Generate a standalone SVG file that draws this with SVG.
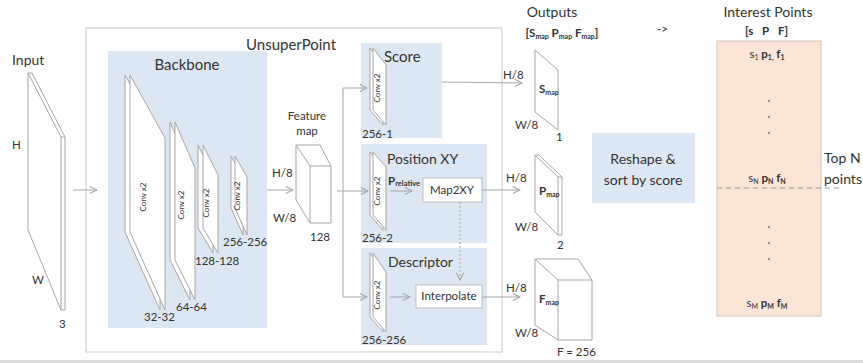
<svg xmlns="http://www.w3.org/2000/svg" width="863" height="363" viewBox="0 0 863 363">
<defs>
<style>
text{font-family:Lato,"Open Sans","Liberation Sans",sans-serif;fill:#333}
.t{font-size:15px}
.m{font-size:14px}
.s{font-size:11.5px}
.xs{font-size:8px}
.c{text-anchor:middle}
.blue{fill:#dce7f3;stroke:none}
.slab{fill:#fff;stroke:#a6a6a6;stroke-width:1}
.ln{fill:none;stroke:#a6a6a6;stroke-width:1}
.arr{fill:none;stroke:#a6a6a6;stroke-width:1;marker-end:url(#ah)}
.b{font-weight:bold}
</style>
<marker id="ah" viewBox="0 0 10 10" refX="9" refY="5" markerWidth="9" markerHeight="9" markerUnits="userSpaceOnUse" orient="auto">
<path d="M1,1 L9,5 L1,9" fill="none" stroke="#a6a6a6" stroke-width="1.2"/>
</marker>
</defs>
<rect width="863" height="363" fill="#fff"/>
<rect x="0" y="360" width="863" height="3" fill="#dcdcdc"/>

<g id="unsuperpoint">
<rect x="86" y="28" width="416" height="324" fill="none" stroke="#c8c8c8"/>
<text class="t c" x="291" y="50">UnsuperPoint</text>
</g>

<g id="input">
<text class="m" x="12" y="65">Input</text>
<polygon class="slab" points="28,73 32,73 65,137 65,310 61,310 28,230"/>
<polyline class="ln" points="28,73 61,137 65,137"/>
<line class="ln" x1="61" y1="137" x2="61" y2="310"/>
<text class="s" x="12" y="149">H</text>
<text class="s" x="32" y="284">W</text>
<text class="s" x="59" y="328">3</text>
</g>

<g id="backbone">
<rect class="blue" x="108" y="51" width="159" height="277"/>
<text class="t c" x="187" y="70">Backbone</text>
<polygon class="slab" points="125,75 160,138 160,310 125,232"/>
<polygon class="slab" points="130,75 165,138 165,310 130,232"/>
<text class="xs c" transform="translate(146,197) rotate(-90)">Conv x2</text>
<text class="s" x="144" y="321">32-32</text>
<polygon class="slab" points="170,122 190,168 190,300 170,260"/>
<polygon class="slab" points="175,122 195,168 195,300 175,260"/>
<text class="xs c" transform="translate(184,205) rotate(-90)">Conv x2</text>
<text class="s" x="176" y="311">64-64</text>
<polygon class="slab" points="198,145 213,175 213,253 198,228"/>
<polygon class="slab" points="203,145 218,175 218,253 203,228"/>
<text class="xs c" transform="translate(209,203) rotate(-90)">Conv x2</text>
<text class="s" x="195" y="265">128-128</text>
<polygon class="slab" points="231,156 243,177 243,235 231,208"/>
<polygon class="slab" points="235,156 247,177 247,235 235,208"/>
<text class="xs c" transform="translate(240,196) rotate(-90)">Conv x2</text>
<text class="s" x="223" y="246">256-256</text>
</g>

<g id="feature-map">
<text class="s c" x="307" y="120">Feature</text>
<text class="s c" x="307" y="135">map</text>
<polygon class="slab" points="296,145 320,145 331,166 331,223 310,223 296,200"/>
<polyline class="ln" points="296,145 310,166 331,166"/>
<line class="ln" x1="310" y1="166" x2="310" y2="223"/>
<text class="s" x="272" y="177">H/8</text>
<text class="s" x="273" y="222">W/8</text>
<text class="s" x="310" y="241">128</text>
</g>

<g id="score">
<rect class="blue" x="361" y="43" width="81" height="95"/>
<text class="t" x="384" y="62">Score</text>
<polygon class="slab" points="370,48 383,65 383,125 370,110"/>
<polygon class="slab" points="373,48 386,65 386,125 373,110"/>
<text class="xs c" transform="translate(380,88) rotate(-90)">Conv x2</text>
<text class="s" x="362" y="138">256-1</text>
</g>

<g id="position-xy">
<rect class="blue" x="361" y="144" width="126" height="99"/>
<text class="m" x="387" y="164">Position XY</text>
<polygon class="slab" points="370,152 383,167 383,230 370,215"/>
<polygon class="slab" points="373,152 386,167 386,230 373,215"/>
<text class="xs c" transform="translate(380,191) rotate(-90)">Conv x2</text>
<text class="s" x="362" y="242">256-2</text>
<text class="s" x="388" y="185"><tspan class="b">P</tspan><tspan font-size="7.5" class="b" dy="1">relative</tspan></text>
<g id="map2xy">
<rect x="423" y="178" width="59" height="24" fill="#fff" stroke="#bfbfbf"/>
<text class="s c" x="452" y="194">Map2XY</text>
</g>
</g>

<g id="descriptor">
<rect class="blue" x="361" y="248" width="126" height="97"/>
<text class="m" x="388" y="267">Descriptor</text>
<polygon class="slab" points="370,253 383,272 383,332 370,317"/>
<polygon class="slab" points="373,253 386,272 386,332 373,317"/>
<text class="xs c" transform="translate(380,295) rotate(-90)">Conv x2</text>
<text class="s" x="362" y="344">256-256</text>
<g id="interpolate">
<rect x="416" y="285" width="66" height="23" fill="#fff" stroke="#bfbfbf"/>
<text class="s c" x="449" y="300">Interpolate</text>
</g>
</g>

<g id="outputs">
<text class="m c" x="552" y="17">Outputs</text>
<text class="s c b" x="562" y="37">[S<tspan font-size="7" dy="2">map</tspan><tspan dy="-2"> P</tspan><tspan font-size="7" dy="2">map</tspan><tspan dy="-2"> F</tspan><tspan font-size="7" dy="2">map</tspan><tspan dy="-2">]</tspan></text>
</g>

<g id="s-map">
<polygon class="slab" points="535,50 558,70 558,130 535,112"/>
<text class="s b" x="539" y="93">S<tspan font-size="7" dy="2">map</tspan></text>
<text class="s" x="503" y="79">H/8</text>
<text class="s" x="515" y="129">W/8</text>
<text class="s" x="556" y="141">1</text>
</g>

<g id="p-map">
<polygon class="slab" points="535,155 539,155 562,177 562,235 558,235 535,212"/>
<polyline class="ln" points="535,155 558,177 562,177"/>
<line class="ln" x1="558" y1="177" x2="558" y2="235"/>
<text class="s b" x="539" y="195">P<tspan font-size="7" dy="2">map</tspan></text>
<text class="s" x="506" y="182">H/8</text>
<text class="s" x="515" y="231">W/8</text>
<text class="s" x="557" y="249">2</text>
</g>

<g id="f-map">
<polygon class="slab" points="535,259 578,259 592,280 592,340 558,340 535,325"/>
<polyline class="ln" points="535,259 558,280 592,280"/>
<line class="ln" x1="558" y1="280" x2="558" y2="340"/>
<text class="s b" x="539" y="303">F<tspan font-size="7" dy="2">map</tspan></text>
<text class="s" x="506" y="292">H/8</text>
<text class="s" x="515" y="337">W/8</text>
<text class="s" x="557" y="356">F = 256</text>
</g>

<g id="reshape">
<rect class="blue" x="592" y="133" width="103" height="70"/>
<text class="m c" x="643" y="164">Reshape &amp;</text>
<text class="m c" x="643" y="185">sort by score</text>
</g>

<text class="s" x="657" y="33">-&gt;</text>

<g id="interest-points">
<text class="m c" x="768" y="17">Interest Points</text>
<text class="s b" y="35"><tspan x="745">[s</tspan><tspan x="762">P</tspan><tspan x="778">F]</tspan></text>
<rect x="717" y="41" width="104" height="275" fill="#fbe5d6" stroke="#cfc3b8"/>
<text class="s c" x="767" y="58">s<tspan font-size="7" dy="2">1</tspan><tspan dy="-2" class="b"> p</tspan><tspan font-size="7" dy="2" class="b">1,</tspan><tspan dy="-2" class="b"> f</tspan><tspan font-size="7" dy="2" class="b">1</tspan></text>
<g fill="#666"><circle cx="769" cy="101" r="0.9"/><circle cx="769" cy="117" r="0.9"/><circle cx="769" cy="133" r="0.9"/>
<circle cx="769" cy="227" r="0.9"/><circle cx="769" cy="243" r="0.9"/><circle cx="769" cy="259" r="0.9"/></g>
<text class="s c" x="767" y="182">s<tspan font-size="7" dy="2">N</tspan><tspan dy="-2" class="b"> p</tspan><tspan font-size="7" dy="2" class="b">N</tspan><tspan dy="-2" class="b"> f</tspan><tspan font-size="7" dy="2" class="b">N</tspan></text>
<text class="s c" x="767" y="307">s<tspan font-size="7" dy="2">M</tspan><tspan dy="-2" class="b"> p</tspan><tspan font-size="7" dy="2" class="b">M</tspan><tspan dy="-2" class="b"> f</tspan><tspan font-size="7" dy="2" class="b">M</tspan></text>
<line x1="717" y1="188" x2="841" y2="188" stroke="#999" stroke-dasharray="5,4"/>
<text class="m" x="824" y="163">Top N</text>
<text class="m" x="824" y="184">points</text>
</g>

<g id="connectors">
<line class="arr" x1="73" y1="190" x2="97" y2="190"/>
<line class="arr" x1="267" y1="190" x2="293" y2="190"/>
<line class="arr" x1="337" y1="191" x2="368" y2="191"/>
<polyline class="arr" points="343,191 343,88 367,88"/>
<polyline class="arr" points="343,191 343,297 367,297"/>
<line class="arr" x1="390" y1="191" x2="412" y2="191"/>
<line class="arr" x1="390" y1="297" x2="410" y2="297"/>
<line x1="460" y1="202" x2="460" y2="280" stroke="#a6a6a6" stroke-dasharray="2,2" marker-end="url(#ah)"/>
<line class="arr" x1="442" y1="82" x2="522" y2="83"/>
<line class="arr" x1="482" y1="190" x2="520" y2="190"/>
<line class="arr" x1="482" y1="297" x2="520" y2="297"/>
</g>
</svg>
